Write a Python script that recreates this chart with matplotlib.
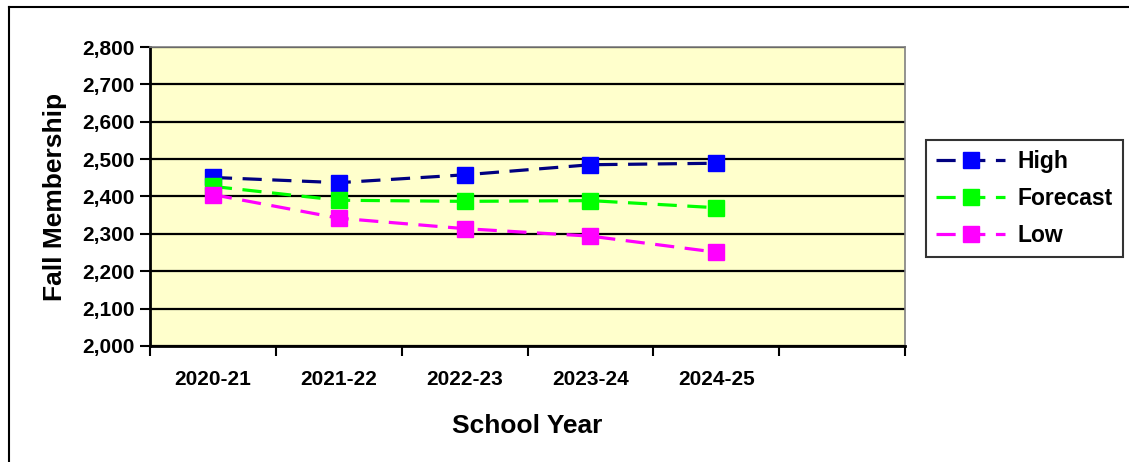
import matplotlib
matplotlib.use("Agg")
import matplotlib.pyplot as plt
from matplotlib.lines import Line2D

plt.rcParams['font.family'] = ['Liberation Sans', 'DejaVu Sans']
plt.rcParams['font.weight'] = 'bold'

years = ["2020-21", "2021-22", "2022-23", "2023-24", "2024-25"]
high = [2451, 2437, 2458, 2485, 2489]
forecast = [2427, 2390, 2387, 2389, 2370]
low = [2405, 2342, 2314, 2294, 2251]
yticks = [2000, 2100, 2200, 2300, 2400, 2500, 2600, 2700, 2800]
n_slots = 6

W, H = 1129, 462
fig = plt.figure(figsize=(W / 100, H / 100), dpi=100)
fig.patch.set_facecolor('white')

# outer chart border
fig.add_artist(Line2D([9 / W, 9 / W], [0, 1 - 7 / H], color='black', lw=1.5, transform=fig.transFigure))
fig.add_artist(Line2D([9 / W, 1], [1 - 7 / H, 1 - 7 / H], color='black', lw=1.5, transform=fig.transFigure))

ax = fig.add_axes([150 / W, 1 - 346 / H, (905 - 150) / W, (346 - 47) / H])
ax.set_facecolor('#FFFFCC')

x = list(range(len(years)))
series = [
    ("High", high, '#000080', '#0000FF'),
    ("Forecast", forecast, '#00FF00', '#00FF00'),
    ("Low", low, '#FF00FF', '#FF00FF'),
]
for name, vals, lc, mc in series:
    ax.plot(x, vals, color=lc, lw=2.3, dashes=(6, 3.3), marker='s', markersize=11.5,
            markerfacecolor=mc, markeredgecolor=mc, label=name, zorder=3)

ax.set_ylim(2000, 2800)
ax.set_yticks(yticks)
ax.set_yticklabels([f"{v:,}" for v in yticks], fontsize=15, fontweight='bold')
ax.yaxis.grid(True, color='black', lw=1.6)
ax.set_axisbelow(True)

ax.set_xlim(-0.5, n_slots - 0.5)
ax.set_xticks([i - 0.5 for i in range(n_slots + 1)])
ax.set_xticklabels([])
ax.set_xticks(x, minor=True)
ax.set_xticklabels(years, minor=True, fontsize=15, fontweight='bold')
ax.tick_params(axis='x', which='major', length=7, width=1.5, direction='out')
ax.tick_params(axis='x', which='minor', length=0, pad=17)
ax.tick_params(axis='y', length=7, width=1.5, direction='out', pad=4)

for s in ['left', 'bottom']:
    ax.spines[s].set_color('black')
    ax.spines[s].set_linewidth(2)
for s in ['top', 'right']:
    ax.spines[s].set_color('#808080')
    ax.spines[s].set_linewidth(1.2)

ax.set_xlabel("School Year", fontsize=19, fontweight='bold', labelpad=18)
ax.set_ylabel("Fall Membership", fontsize=19, fontweight='bold', labelpad=11)

leg = ax.legend(loc='upper left', bbox_to_anchor=(926 / W, 1 - 140 / H), bbox_transform=fig.transFigure,
                borderaxespad=0, fancybox=False, shadow=False, frameon=True, fontsize=16.5,
                handlelength=3.0, handletextpad=0.55, labelspacing=0.6, borderpad=0.45)
leg.get_frame().set_edgecolor('black')
leg.get_frame().set_linewidth(1.5)
for t in leg.get_texts():
    t.set_fontweight('bold')

fig.savefig("out.png", dpi=100)
